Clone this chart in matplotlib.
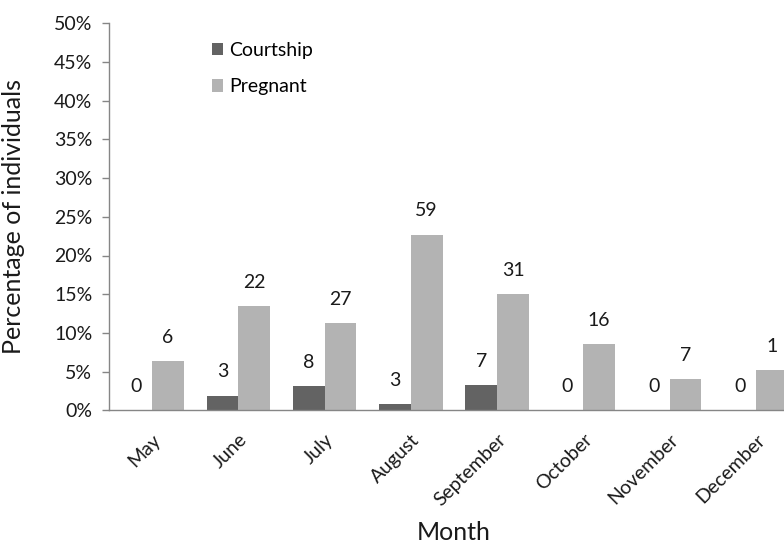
import matplotlib.pyplot as plt
import matplotlib.transforms as mtransforms
import numpy as np
from matplotlib.ticker import PercentFormatter

plt.rcParams['font.family'] = ['Lato', 'DejaVu Sans']

months = ['May', 'June', 'July', 'August', 'September', 'October', 'November', 'December']
courtship_pct = [0, 1.9, 3.1, 0.85, 3.3, 0, 0, 0]
pregnant_pct = [6.4, 13.5, 11.3, 22.7, 15.0, 8.55, 4.0, 5.2]
courtship_n = [0, 3, 8, 3, 7, 0, 0, 0]
pregnant_n = [6, 22, 27, 59, 31, 16, 7, 1]

dark = '#636363'
light = '#b3b3b3'
axis_grey = '#868686'
ink = '#1a1a1a'

fig = plt.figure(figsize=(7.84, 5.45), dpi=100)
ax = fig.add_axes([109 / 784, 134.7 / 545, 690 / 784, 387 / 545])

x = np.arange(len(months))
w = 0.367
b1 = ax.bar(x - w / 2, courtship_pct, w, color=dark, label='Courtship')
b2 = ax.bar(x + w / 2, pregnant_pct, w, color=light, label='Pregnant')

# counts written above each bar
for bars, counts in ((b1, courtship_n), (b2, pregnant_n)):
    for rect, n in zip(bars, counts):
        ax.annotate(str(n), (rect.get_x() + rect.get_width() / 2, rect.get_height()),
                    xytext=(0, 17), textcoords='offset points',
                    ha='center', va='center', fontsize=14, color=ink,
                    annotation_clip=False)

ax.set_xlim(-0.5, len(months) - 0.5)
ax.set_ylim(0, 50)
ax.set_yticks(np.arange(0, 51, 5))
ax.yaxis.set_major_formatter(PercentFormatter(decimals=0))

ax.set_xticks(x)
ax.set_xticklabels(months, rotation=45, ha='right', rotation_mode='anchor')
shift = mtransforms.ScaledTranslation(5 / 100, 0, fig.dpi_scale_trans)
for lbl in ax.get_xticklabels():
    lbl.set_transform(lbl.get_transform() + shift)

ax.tick_params(axis='x', length=0, pad=15, labelsize=14, labelcolor=ink)
ax.tick_params(axis='y', length=5, width=1, color=axis_grey, pad=7,
               labelsize=14, labelcolor=ink)

for side in ('top', 'right'):
    ax.spines[side].set_visible(False)
for side in ('left', 'bottom'):
    ax.spines[side].set_color(axis_grey)
    ax.spines[side].set_linewidth(1)

ax.set_ylabel('Percentage of individuals', fontsize=18, color=ink)
ax.yaxis.set_label_coords(-0.122, 0.5)
ax.set_xlabel('Month', fontsize=18, color=ink)
ax.xaxis.set_label_coords(0.5, -0.335)
ax.xaxis.label.set_va('baseline')

fig.legend(handles=[b1, b2], loc='upper left', bbox_to_anchor=(0.270, 0.923),
           frameon=False, fontsize=14, borderpad=0, borderaxespad=0,
           handlelength=0.6, handleheight=0.6, handletextpad=0.3,
           labelspacing=1.0)

fig.savefig('out.png', dpi=100)
